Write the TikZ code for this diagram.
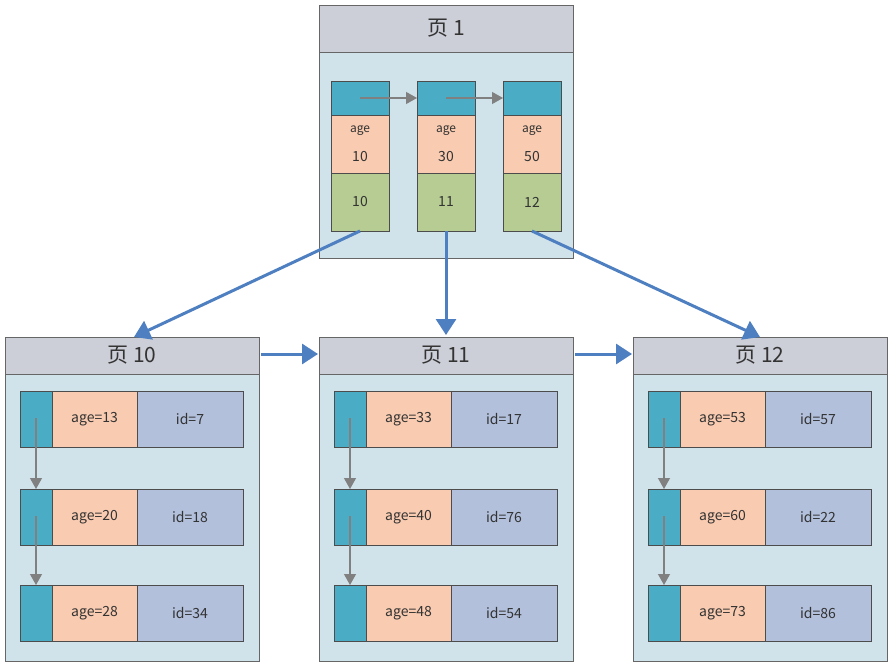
\documentclass[tikz,border=0pt]{standalone}
\usepackage{fontspec}
\setmainfont{Noto Sans CJK SC}
\usetikzlibrary{arrows.meta}
\definecolor{pagebg}{HTML}{D0E2EA}
\definecolor{hdr}{HTML}{CDCFD8}
\definecolor{teal}{HTML}{4BACC6}
\definecolor{peach}{HTML}{F9CBB0}
\definecolor{grn}{HTML}{B6CC92}
\definecolor{lav}{HTML}{B2C0DC}
\definecolor{bl}{HTML}{4E7FC0}
\tikzset{x=1pt,y=-1pt,
 page/.style={draw=black!60,fill=pagebg,line width=0.8pt},
 hd/.style={draw=black!60,fill=hdr,line width=0.8pt,font=\fontsize{21}{21}\selectfont,text=black!80},
 cell/.style={draw=black!70,line width=0.7pt},
 lab/.style={font=\fontsize{14}{14}\selectfont,text=black!80},
 big/.style={bl,line width=3pt,-{Triangle[length=16pt,width=20pt]}},
 small/.style={black!50,line width=1.2pt,-{Triangle[length=11pt,width=12pt]}}}
\begin{document}
\begin{tikzpicture}
\useasboundingbox (0,0) rectangle (892,666);
% page 1
\draw[page] (319,5) rectangle (573,258);
\draw[hd] (319,5) rectangle node(h1){页 1} (573,52);
\foreach \x/\a/\b [count=\i] in {331/10/10,417/30/11,503/50/12}{
 \draw[cell,fill=teal] (\x,81) rectangle ++(58,34);
 \coordinate (t\i) at (\x+29,98);
 \coordinate (tl\i) at (\x,98);
 \draw[cell,fill=peach] (\x,115) rectangle ++(58,58);
 \node[lab,font=\fontsize{12}{12}\selectfont] (ag\i) at (\x+29,131) {age};
 \node[lab] (av\i) at (\x+29,157) {\a};
 \draw[cell,fill=grn] (\x,173) rectangle ++(58,58);
 \node[lab] (g\i) at (\x+29,202) {\b};
 \coordinate (b\i) at (\x+29,231);
}
\draw[small] (t1) -- (tl2);
\draw[small] (t2) -- (tl3);
% bottom pages
\foreach \px/\n/\ra/\rb/\rc/\ia/\ib/\ic [count=\k] in
 {5/10/13/20/28/7/18/34, 319/11/33/40/48/17/76/54, 633/12/53/60/73/57/22/86}{
 \draw[page] (\px,337) rectangle ++(254,324);
 \draw[hd] (\px,337) rectangle node(ph\k){页 \n} ++(254,37);
 \foreach \y/\r/\d [count=\j] in {391/\ra/\ia,489/\rb/\ib,585/\rc/\ic}{
  \draw[cell,fill=teal] (\px+15,\y) rectangle ++(32,56);
  \draw[cell,fill=peach] (\px+47,\y) rectangle node[lab](a\k\j){age=\r} ++(85,56);
  \draw[cell,fill=lav] (\px+132,\y) rectangle node[lab](i\k\j){id=\d} ++(106,56);
  \coordinate (m\k\j) at (\px+31,\y+27);
  \coordinate (top\k\j) at (\px+31,\y);
 }
 \draw[small] (m\k1) -- (top\k2);
 \draw[small] (m\k2) -- (top\k3);
}
\coordinate (e1) at (134,337);
\coordinate (e2) at (446,335);
\coordinate (e3) at (760,337);
\draw[big] (b1) -- (e1);
\draw[big] (b2) -- (e2);
\draw[big] (b3) -- (e3);
\coordinate (r1) at (261,354); \coordinate (r2) at (318,354);
\coordinate (r3) at (575,354); \coordinate (r4) at (632,354);
\draw[big] (r1) -- (r2);
\draw[big] (r3) -- (r4);
\end{tikzpicture}
\end{document}
